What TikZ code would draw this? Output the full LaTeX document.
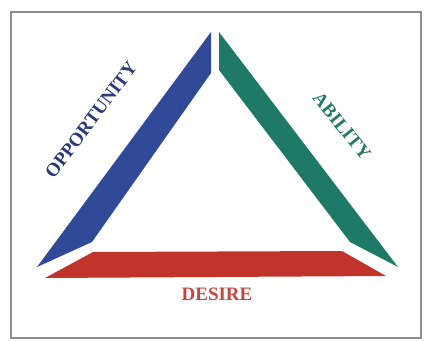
\documentclass[tikz,border=0pt]{standalone}
\usepackage{fontspec}
\setmainfont{Liberation Serif}
\definecolor{oppblue}{RGB}{48,74,152}
\definecolor{oppbluetext}{RGB}{44,58,118}
\definecolor{abigreen}{RGB}{30,122,102}
\definecolor{abigreentext}{RGB}{42,120,108}
\definecolor{desred}{RGB}{192,52,43}
\definecolor{desredtext}{RGB}{196,70,62}
\definecolor{framegray}{RGB}{140,140,140}
\tikzset{
  band/.style={fill=#1, draw=none},
  lbl/.style={font=\bfseries\fontsize{16.2}{18}\selectfont, text=#1, inner sep=0pt},
}

\begin{document}
\begin{tikzpicture}[x=0.03cm, y=-0.03cm]
\useasboundingbox (0,0) rectangle (424,342);

% outer frame
\draw[framegray, line width=1.6pt] (11,12) rectangle (421,338);

% three sides of the triangle
\fill[band=oppblue] (211,32) -- (211,73) -- (92,242) -- (37,267) -- cycle;
\fill[band=abigreen] (219,32) -- (398,267) -- (350,242) -- (219,70) -- cycle;
\fill[band=desred] (93,252) -- (342,251) -- (386,276) -- (45,278) -- cycle;

% labels
\node[lbl=oppbluetext, rotate=53] (opportunity) at (91,120) {OPPORTUNITY};
\node[lbl=abigreentext, rotate=-51] (ability) at (342,126) {ABILITY};
\node[lbl=desredtext] (desire) at (217,294) {DESIRE};

\end{tikzpicture}
\end{document}
